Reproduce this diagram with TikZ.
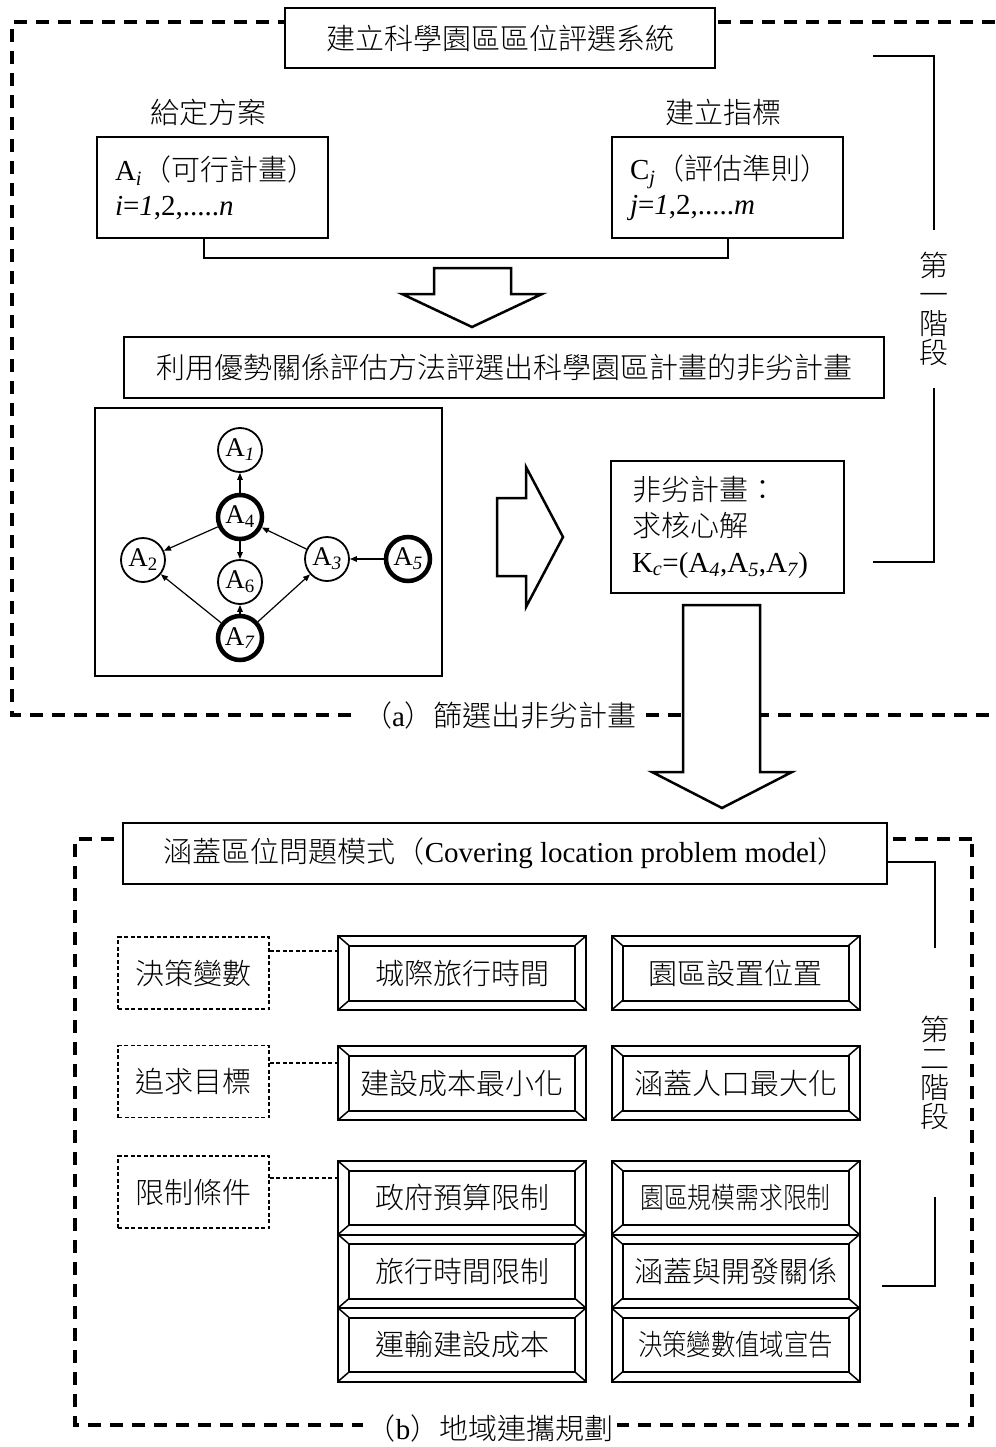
\documentclass[tikz,border=0pt]{standalone}
\usepackage{fontspec}
\setmainfont{Liberation Serif}
\newfontfamily\cjk{Noto Sans CJK TC Light}
\usetikzlibrary{arrows.meta,calc}
\newcommand{\latn}[1]{{\rmfamily #1}}
\begin{document}
\begin{tikzpicture}[x=1pt,y=-1pt,
  every node/.style={font=\cjk\fontsize{29}{34}\selectfont},
  box/.style={draw, line width=2pt, fill=white, inner sep=0pt},
  bigdash/.style={line width=4pt, dash pattern=on 13pt off 9pt},
  dbox/.style={draw, line width=1.8pt, dash pattern=on 4pt off 2.5pt, minimum width=151pt, minimum height=72pt, inner sep=0pt},
  dconn/.style={line width=1.8pt, dash pattern=on 4pt off 2.5pt},
  frame/.style={draw, line width=2pt, fill=white, minimum width=248pt, minimum height=74pt, inner sep=0pt,
    path picture={
      \draw[line width=2pt] ([shift={(11pt,-9.5pt)}]path picture bounding box.north west) rectangle ([shift={(-11pt,9.5pt)}]path picture bounding box.south east);
      \draw[line width=1.5pt] (path picture bounding box.north west) -- ++(11pt,-9.5pt)
        (path picture bounding box.north east) -- ++(-11pt,-9.5pt)
        (path picture bounding box.south west) -- ++(11pt,9.5pt)
        (path picture bounding box.south east) -- ++(-11pt,9.5pt);
    }},
  gnode/.style={circle, draw, line width=1.8pt, minimum size=44pt, inner sep=0pt, fill=white, font=\rmfamily\fontsize{27}{27}\selectfont},
  gthick/.style={gnode, line width=4.5pt},
  garrow/.style={line width=1.2pt, -{Triangle[length=7pt,width=5.5pt]}},
  blockarrow/.style={line width=2.5pt, fill=white, line join=miter},
  conn/.style={line width=2pt},
  bracket/.style={line width=2.5pt},
  stage/.style={inner sep=0pt, align=center, font=\cjk\fontsize{29}{29}\selectfont},
]
\useasboundingbox (0,0) rectangle (995,1447);

% dashed frames
\draw[bigdash] (995,22) -- (12,22) -- (12,715) -- (995,715);
\draw[bigdash] (972,839) -- (75,839) -- (75,1425) -- (972,1425) -- cycle;

% ---- stage 1 ----
\node[box, minimum width=430pt, minimum height=60pt] (t1) at (500,38) {建立科學園區區位評選系統};
\node (g1) at (208,112) {給定方案};
\node (g2) at (723,112) {建立指標};
\node[box, minimum width=231pt, minimum height=101pt, text width=195pt, align=left, inner xsep=18pt, font=\cjk\fontsize{29}{35}\selectfont] (ai) at (212.5,187.5)
  {\latn{A\textsubscript{\textit{i}}}（可行計畫）\\ \latn{\textit{i}=\textit{1},2,.....\textit{n}}};
\node[box, minimum width=231pt, minimum height=101pt, text width=195pt, align=left, inner xsep=18pt, font=\cjk\fontsize{29}{35}\selectfont] (cj) at (727.5,187.5)
  {\latn{C\textsubscript{\textit{j}}}（評估準則）\\ \latn{\textit{j}=\textit{1},2,.....\textit{m}}};
\draw[conn] ([xshift=-8.5pt]ai.south) -- ++(0,19) -| (cj.south);

\draw[blockarrow] (434,268) -- (511,268) -- (511,294) -- (542,294) -- (472,327) -- (402,294) -- (434,294) -- cycle;

\node[box, minimum width=760pt, minimum height=61pt] (eval) at (504,367.5) {利用優勢關係評估方法評選出科學園區計畫的非劣計畫};

\node[box, minimum width=347pt, minimum height=268pt] (gbox) at (268.5,542) {};
\node[gnode]  (a1) at (240,450) {A\textsubscript{\textit{1}}};
\node[gthick] (a4) at (240,517) {A\textsubscript{4}};
\node[gnode]  (a2) at (143,560) {A\textsubscript{2}};
\node[gnode]  (a6) at (240,582) {A\textsubscript{6}};
\node[gnode]  (a3) at (327,559) {A\textsubscript{\textit{3}}};
\node[gthick] (a5) at (408,559) {A\textsubscript{\textit{5}}};
\node[gthick] (a7) at (240,638) {A\textsubscript{\textit{7}}};
\draw[garrow] (a4) -- (a1);
\draw[garrow] (a4) -- (a2);
\draw[garrow] (a4) -- (a6);
\draw[garrow] (a3) -- (a4);
\draw[garrow] (a5) -- (a3);
\draw[garrow] (a7) -- (a2);
\draw[garrow] (a7) -- (a6);
\draw[garrow] (a7) -- (a3);

\draw[blockarrow] (497,498) -- (526,498) -- (526,467) -- (563,537) -- (526,607) -- (526,576) -- (497,576) -- cycle;

\node[box, minimum width=233pt, minimum height=132pt, text width=191pt, align=left, inner xsep=21pt, font=\cjk\fontsize{29}{36}\selectfont] (nd) at (727.5,527)
  {非劣計畫：\\ 求核心解\\ \latn{K\textsubscript{\textit{c}}=(A\textsubscript{\textit{4}},A\textsubscript{\textit{5}},A\textsubscript{\textit{7}})}};

\coordinate (s1a) at (873,56);
\coordinate (s1b) at (873,562);
\node[stage, minimum height=158pt] (st1) at (934,309) {第\\一\\階\\段};
\draw[bracket] (s1a) -| (st1.north);
\draw[bracket] (st1.south) |- (s1b);

\node[fill=white, inner sep=4pt] (la) at (500,715) {（\latn{a}）篩選出非劣計畫};

\draw[blockarrow] (683,605) -- (760,605) -- (760,772) -- (792,772) -- (722,808) -- (652,772) -- (683,772) -- cycle;

% ---- stage 2 ----
\node[box, minimum width=764pt, minimum height=61pt] (t2) at (505,853.5) {涵蓋區位問題模式（\latn{Covering location problem model}）};

\node[stage, minimum height=249pt] (st2) at (935,1072.5) {第\\二\\階\\段};
\coordinate (s2b) at (882,1286);
\draw[bracket] ([yshift=-8.5pt]t2.east) -| (st2.north);
\draw[bracket] (st2.south) |- (s2b);

\node[dbox] (d1) at (193.5,973) {決策變數};
\node[dbox] (d2) at (193.5,1081.5) {追求目標};
\node[dbox] (d3) at (193.5,1192) {限制條件};

\node[frame] (f1) at (462,973) {城際旅行時間};
\node[frame] (f2) at (735.5,973) {園區設置位置};
\node[frame] (f3) at (462,1083) {建設成本最小化};
\node[frame] (f4) at (735.5,1083) {涵蓋人口最大化};
\node[frame, minimum height=73.5pt] (f5) at (462,1197.75) {政府預算限制};
\node[frame, minimum height=73.5pt] (f6) at (462,1271.25) {旅行時間限制};
\node[frame, minimum height=73.5pt] (f7) at (462,1344.75) {運輸建設成本};
\node[frame, minimum height=73.5pt] (f8) at (735.5,1197.75) {\scalebox{0.82}[1]{園區規模需求限制}};
\node[frame, minimum height=73.5pt] (f9) at (735.5,1271.25) {涵蓋與開發關係};
\node[frame, minimum height=73.5pt] (f10) at (735.5,1344.75) {\scalebox{0.84}[1]{決策變數值域宣告}};

\draw[dconn] (d1.east |- 0,951) -- (f1.west |- 0,951);
\draw[dconn] (d2.east |- 0,1063) -- (f3.west |- 0,1063);
\draw[dconn] (d3.east |- 0,1178) -- (f5.west |- 0,1178);

\node[fill=white, inner sep=4pt] (lb) at (490,1428) {（\latn{b}）地域連攜規劃};
\end{tikzpicture}
\end{document}
